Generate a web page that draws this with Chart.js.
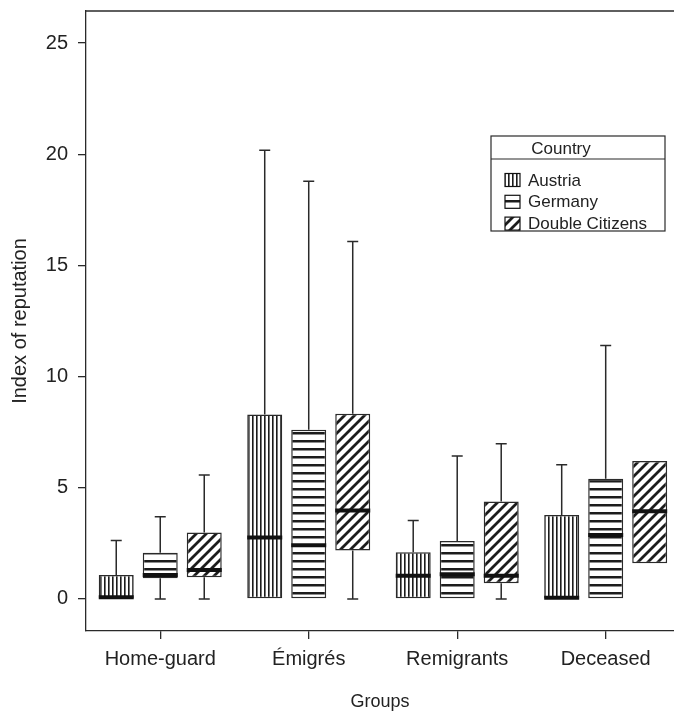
<!DOCTYPE html>
<html>
<head>
<meta charset="utf-8">
<script src="https://cdn.jsdelivr.net/npm/chart.js@4.4.1/dist/chart.umd.min.js"></script>
<style>
    html, body { margin: 0; padding: 0; background: #fff; }
    #wrap { width: 674px; height: 712px; }
</style>
</head>
<body>
<div id="wrap"><canvas id="boxChart"></canvas></div>
<script>
const groups = ['Home-guard', 'Émigrés', 'Remigrants', 'Deceased'];
const countries = ['Austria', 'Germany', 'Double Citizens'];
const yTicks = [0, 5, 10, 15, 20, 25];

// [min, q1, median, q3, max] per group
const austria = [
    [0, 0, 0.08, 1.08, 2.63],
    [0, 0, 2.76, 8.29, 20.18],
    [0, 0, 1.04, 2.1, 3.53],
    [0, 0, 0.06, 3.78, 6.04]
];
const germany = [
    [0, 0.93, 1.08, 2.08, 3.7],
    [0, 0, 2.42, 7.61, 18.78],
    [0, 0, 1.11, 2.61, 6.43],
    [0, 0, 2.88, 5.41, 11.4]
];
const doubleCitizens = [
    [0, 0.98, 1.3, 2.99, 5.58],
    [0, 2.18, 3.98, 8.33, 16.08],
    [0, 0.71, 1.04, 4.38, 6.98],
    [1.61, 1.61, 3.95, 6.2, 6.2]
];
const seriesStats = [austria, germany, doubleCitizens];

const FONT = "'Liberation Sans', Arial, Helvetica, sans-serif";
const INK = '#2a2a2a';

const canvas = document.getElementById('boxChart');
const mainCtx = canvas.getContext('2d');

// Hatch patterns
function makePattern(w, h, draw) {
    const tile = document.createElement('canvas');
    tile.width = w;
    tile.height = h;
    const t = tile.getContext('2d');
    t.fillStyle = '#fff';
    t.fillRect(0, 0, w, h);
    t.fillStyle = '#1c1c1c';
    t.strokeStyle = '#1c1c1c';
    draw(t, w, h);
    return mainCtx.createPattern(tile, 'repeat');
}

const patterns = [
    makePattern(4, 4, (t, w, h) => { t.fillRect(0, 0, 1.6, h); }),
    makePattern(8, 8, (t, w, h) => { t.fillRect(0, 0, w, 2.5); }),
    makePattern(10, 10, (t, w, h) => {
        t.lineWidth = 2.8;
        t.beginPath();
        t.moveTo(-5, 5); t.lineTo(5, -5);
        t.moveTo(0, 10); t.lineTo(10, 0);
        t.moveTo(5, 15); t.lineTo(15, 5);
        t.stroke();
    })
];

// Whiskers, medians, frame top and legend
const boxExtras = {
    id: 'boxExtras',
    afterDatasetsDraw(chart) {
        const ctx = chart.ctx;
        const y = chart.scales.y;
        ctx.save();
        ctx.strokeStyle = INK;
        seriesStats.forEach((stats, i) => {
            const meta = chart.getDatasetMeta(i);
            meta.data.forEach((bar, j) => {
                const s = stats[j];
                const x = bar.x;
                const half = bar.width / 2;
                const pMin = y.getPixelForValue(s[0]);
                const pQ1 = y.getPixelForValue(s[1]);
                const pMed = y.getPixelForValue(s[2]);
                const pQ3 = y.getPixelForValue(s[3]);
                const pMax = y.getPixelForValue(s[4]);
                ctx.lineWidth = 1.5;
                ctx.beginPath();
                if (s[4] > s[3]) {
                    ctx.moveTo(x, pQ3); ctx.lineTo(x, pMax);
                    ctx.moveTo(x - 5.5, pMax); ctx.lineTo(x + 5.5, pMax);
                }
                if (s[0] < s[1]) {
                    ctx.moveTo(x, pQ1); ctx.lineTo(x, pMin);
                    ctx.moveTo(x - 5.5, pMin); ctx.lineTo(x + 5.5, pMin);
                }
                ctx.stroke();
                ctx.lineWidth = 4;
                ctx.strokeStyle = '#111';
                ctx.beginPath();
                ctx.moveTo(x - half, pMed); ctx.lineTo(x + half, pMed);
                ctx.stroke();
                ctx.strokeStyle = INK;
            });
        });
        ctx.restore();
    },
    afterDraw(chart) {
        const ctx = chart.ctx;
        const area = chart.chartArea;
        ctx.save();
        // top frame line
        ctx.strokeStyle = INK;
        ctx.lineWidth = 1.3;
        ctx.beginPath();
        ctx.moveTo(area.left, area.top);
        ctx.lineTo(chart.width, area.top);
        ctx.stroke();

        // legend box
        const lx = 491, ly = 136, lw = 174, lh = 95;
        ctx.lineWidth = 1.2;
        ctx.strokeRect(lx, ly, lw, lh);
        ctx.beginPath();
        ctx.moveTo(lx, ly + 23);
        ctx.lineTo(lx + lw, ly + 23);
        ctx.stroke();
        ctx.fillStyle = '#222';
        ctx.font = '17px ' + FONT;
        ctx.textBaseline = 'middle';
        ctx.textAlign = 'center';
        ctx.fillText('Country', lx + 70, ly + 13);
        ctx.textAlign = 'left';
        countries.forEach((name, i) => {
            const cy = ly + 44 + i * 21.8;
            ctx.fillStyle = patterns[i];
            ctx.fillRect(lx + 14, cy - 6.5, 15, 13);
            ctx.strokeStyle = '#111';
            ctx.lineWidth = 1.2;
            ctx.strokeRect(lx + 14, cy - 6.5, 15, 13);
            ctx.fillStyle = '#222';
            ctx.fillText(name, lx + 37, cy + 1);
        });
        ctx.restore();
    }
};

const datasets = countries.map((name, i) => ({
    label: name,
    data: seriesStats[i].map((s, j) => ({ x: j, y: [s[1], s[3]] })),
    backgroundColor: patterns[i],
    borderColor: INK,
    borderWidth: 1.5,
    borderSkipped: false,
    categoryPercentage: 0.889,
    barPercentage: 0.795
}));

new Chart(canvas, {
    type: 'bar',
    data: { datasets: datasets },
    options: {
        responsive: true,
        maintainAspectRatio: false,
        animation: false,
        layout: { padding: { top: 11, right: 0, left: 0, bottom: 0 } },
        plugins: {
            legend: { display: false },
            tooltip: { enabled: false }
        },
        scales: {
            x: {
                type: 'linear',
                min: -0.5,
                max: 3.46,
                offset: false,
                afterBuildTicks: (scale) => { scale.ticks = groups.map((g, i) => ({ value: i })); },
                afterFit: (scale) => {
                    scale.height = 81;
                    scale.paddingLeft = 0;
                    scale.paddingRight = 0;
                },
                grid: { offset: false, drawOnChartArea: false, drawTicks: true, tickLength: 8, color: INK, lineWidth: 1.3 },
                border: { color: INK, width: 1.3 },
                ticks: {
                    color: '#222',
                    font: { family: FONT, size: 20 },
                    padding: 8,
                    maxRotation: 0,
                    autoSkip: false,
                    callback: (v) => groups[v] ?? ''
                },
                title: {
                    display: true,
                    text: 'Groups',
                    color: '#222',
                    font: { family: FONT, size: 18 },
                    padding: { top: 0, bottom: -1 }
                }
            },
            y: {
                min: -1.44,
                max: 26.44,
                afterBuildTicks: (scale) => { scale.ticks = yTicks.map(v => ({ value: v })); },
                afterFit: (scale) => {
                    scale.width = 86;
                    scale.paddingTop = 0;
                    scale.paddingBottom = 0;
                },
                grid: { drawOnChartArea: false, drawTicks: true, tickLength: 8, color: INK, lineWidth: 1.3 },
                border: { color: INK, width: 1.3 },
                ticks: {
                    color: '#222',
                    font: { family: FONT, size: 20 },
                    padding: 10
                },
                title: {
                    display: true,
                    text: 'Index of reputation',
                    color: '#222',
                    font: { family: FONT, size: 20 },
                    padding: { top: 8, bottom: 0 }
                }
            }
        }
    },
    plugins: [boxExtras]
});
</script>
</body>
</html>
